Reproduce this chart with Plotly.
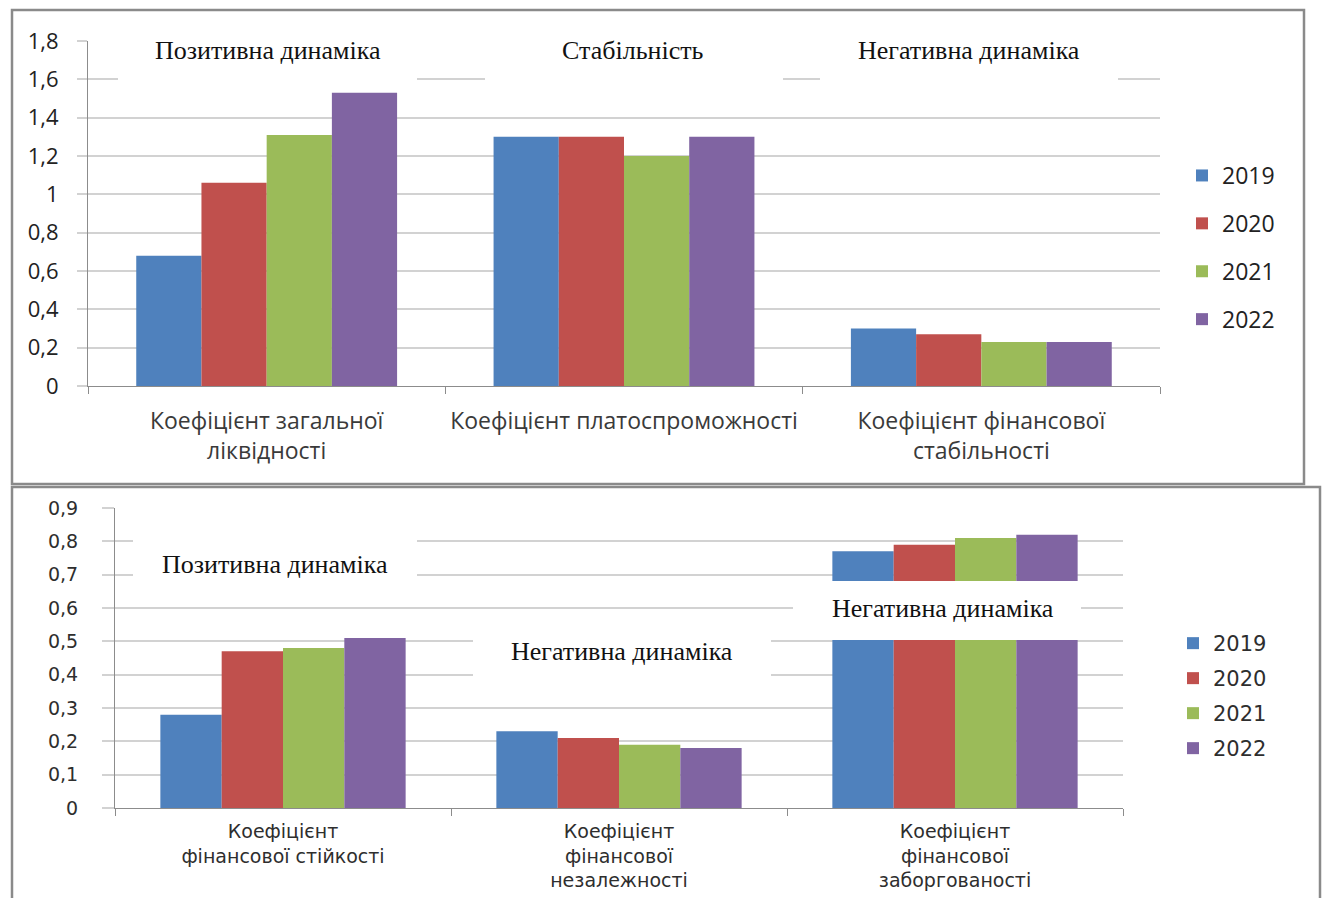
import plotly.graph_objects as go

# ---- data -------------------------------------------------------------
years = ["2019", "2020", "2021", "2022"]
colors = ["#4F81BD", "#C0504D", "#9BBB59", "#8064A2"]

top_categories = [
    "Коефіцієнт загальної<br>ліквідності",
    "Коефіцієнт платоспроможності",
    "Коефіцієнт фінансової<br>стабільності",
]
top_values = {
    "2019": [0.68, 1.30, 0.30],
    "2020": [1.06, 1.30, 0.27],
    "2021": [1.31, 1.20, 0.23],
    "2022": [1.53, 1.30, 0.23],
}

bottom_categories = [
    "Коефіцієнт<br>фінансової стійкості",
    "Коефіцієнт<br>фінансової<br>незалежності",
    "Коефіцієнт<br>фінансової<br>заборгованості",
]
bottom_values = {
    "2019": [0.28, 0.23, 0.77],
    "2020": [0.47, 0.21, 0.79],
    "2021": [0.48, 0.19, 0.81],
    "2022": [0.51, 0.18, 0.82],
}

top_notes = ["Позитивна динаміка", "Стабільність", "Негативна динаміка"]
bottom_notes = ["Позитивна динаміка", "Негативна динаміка", "Негативна динаміка"]

# ---- page geometry ----------------------------------------------------
W, H = 1322, 898


def px(x):
    return x / W


def py(y):
    return 1 - y / H


GRID = "#d2d2d2"
AXIS = "#8c8c8c"
TOP_FONT = "Open Sans"
BOT_FONT = "DejaVu Sans"
NOTE_FONT = "Liberation Serif"

fig = go.Figure()

for i, yr in enumerate(years):
    fig.add_trace(go.Bar(
        x=top_categories, y=top_values[yr], name=yr,
        marker=dict(color=colors[i], line=dict(width=0)),
        xaxis="x", yaxis="y", legend="legend", legendgroup="t" + yr,
    ))
for i, yr in enumerate(years):
    fig.add_trace(go.Bar(
        x=bottom_categories, y=bottom_values[yr], name=yr,
        marker=dict(color=colors[i], line=dict(width=0)),
        xaxis="x2", yaxis="y2", legend="legend2", legendgroup="b" + yr,
    ))

shapes = [
    # chart frames
    dict(type="rect", xref="paper", yref="paper", layer="below",
         x0=px(12), x1=px(1304), y0=py(484), y1=py(10),
         line=dict(color="#8a8a8a", width=2.5)),
    dict(type="rect", xref="paper", yref="paper", layer="below",
         x0=px(12), x1=px(1320), y0=py(905), y1=py(487),
         line=dict(color="#8a8a8a", width=2.5)),
]

# white label boxes (x0, x1, y0, y1 in page pixels) and text centres
top_boxes = [(118, 417, 30, 88), (485, 783, 30, 100), (820, 1118, 30, 100)]
top_text_pos = [(268, 51), (633, 51), (969, 51)]
bottom_boxes = [(133, 417, 525, 592), (473, 771, 625, 692), (793, 1081, 581, 640)]
bottom_text_pos = [(275, 564), (622, 651), (943, 608)]

annotations = []
for (x0, x1, y0, y1) in top_boxes + bottom_boxes:
    shapes.append(dict(type="rect", xref="paper", yref="paper", layer="above",
                       x0=px(x0), x1=px(x1), y0=py(y1), y1=py(y0),
                       fillcolor="white", line=dict(width=0)))
for text, (cx, cy) in zip(top_notes + bottom_notes, top_text_pos + bottom_text_pos):
    annotations.append(dict(text=text, xref="paper", yref="paper",
                            x=px(cx), y=py(cy), xanchor="center", yanchor="middle",
                            showarrow=False,
                            font=dict(family=NOTE_FONT, size=26, color="#111111")))

fig.update_layout(
    width=W, height=H,
    margin=dict(l=0, r=0, t=0, b=0, autoexpand=False),
    paper_bgcolor="white", plot_bgcolor="white",
    barmode="group", bargap=0.27, bargroupgap=0,
    separators=", ",
    shapes=shapes, annotations=annotations,
    xaxis=dict(
        domain=[px(88), px(1160)], anchor="y",
        showgrid=False, showline=True, linecolor=AXIS, linewidth=1,
        ticks="outside", tickson="boundaries", ticklen=7, tickcolor=AXIS,
        ticklabelstandoff=14,
        tickfont=dict(family=TOP_FONT, size=23, color="#3a3a3a"),
    ),
    yaxis=dict(
        domain=[py(386), py(41)], anchor="x", range=[0, 1.8],
        dtick=0.2, tick0=0,
        showgrid=True, gridcolor=GRID, gridwidth=1.5,
        showline=True, linecolor=AXIS, linewidth=1, zeroline=False,
        ticks="outside", ticklen=10, tickcolor=GRID, tickwidth=1.5,
        ticklabelstandoff=14,
        tickfont=dict(family=TOP_FONT, size=22, color="#222222"),
    ),
    xaxis2=dict(
        domain=[px(115), px(1123)], anchor="y2",
        showgrid=False, showline=True, linecolor=AXIS, linewidth=1,
        ticks="outside", tickson="boundaries", ticklen=7, tickcolor=AXIS,
        ticklabelstandoff=6,
        tickfont=dict(family=BOT_FONT, size=19, color="#2e2e2e"),
    ),
    yaxis2=dict(
        domain=[py(808), py(508)], anchor="x2", range=[0, 0.9],
        dtick=0.1, tick0=0,
        showgrid=True, gridcolor=GRID, gridwidth=1.5,
        showline=True, linecolor=AXIS, linewidth=1, zeroline=False,
        ticks="outside", ticklen=12, tickcolor=GRID, tickwidth=1.5,
        ticklabelstandoff=20,
        tickfont=dict(family=BOT_FONT, size=19, color="#2e2e2e"),
    ),
    legend=dict(
        x=px(1182), y=py(154), xanchor="left", yanchor="top",
        bgcolor="rgba(0,0,0,0)", tracegroupgap=15, itemclick=False,
        font=dict(family=TOP_FONT, size=23, color="#222222"),
    ),
    legend2=dict(
        x=px(1173), y=py(623), xanchor="left", yanchor="top",
        bgcolor="rgba(0,0,0,0)", tracegroupgap=4.7, itemclick=False,
        font=dict(family=BOT_FONT, size=21, color="#2e2e2e"),
    ),
)

fig.write_html("out.html")
